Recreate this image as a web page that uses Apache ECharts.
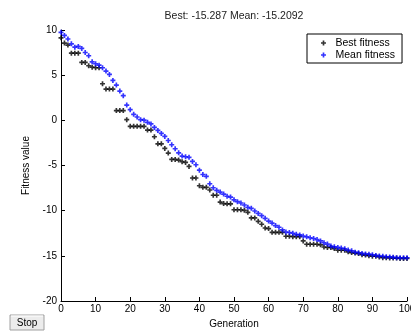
<!DOCTYPE html>
<html>
<head>
<meta charset="utf-8">
<script src="https://cdn.jsdelivr.net/npm/echarts@6/dist/echarts.min.js"></script>
<style>
html,body{margin:0;padding:0;background:#fff;}
#c{width:411px;height:332px;}
</style>
</head>
<body>
<div id="c"></div>
<script>
const generations = Array.from({length: 101}, (_, i) => i);
const bestFitness = [
  9.13, 8.55, 8.33, 7.44, 7.44, 7.44, 6.41, 6.41, 6.04, 5.89,
  5.82, 5.82, 4.05, 3.46, 3.46, 3.46, 1.08, 1.08, 1.08, 0.07,
  -0.66, -0.66, -0.66, -0.66, -0.66, -1.08, -1.08, -1.82, -2.6, -2.6,
  -3.11, -3.63, -4.33, -4.33, -4.4, -4.58, -4.66, -5.1, -6.38, -6.38,
  -7.24, -7.42, -7.42, -7.71, -8.29, -8.29, -9.05, -9.22, -9.24, -9.24,
  -9.9, -9.9, -9.9, -9.96, -10.18, -10.8, -10.8, -11.18, -11.5, -11.92,
  -11.98, -12.4, -12.4, -12.4, -12.4, -12.83, -12.83, -12.88, -12.88, -12.88,
  -13.35, -13.72, -13.72, -13.72, -13.72, -13.78, -14.02, -14.08, -14.08, -14.2,
  -14.38, -14.38, -14.38, -14.56, -14.64, -14.7, -14.75, -14.88, -14.92, -14.98,
  -15.05, -15.05, -15.12, -15.2, -15.2, -15.24, -15.25, -15.25, -15.287, -15.287,
  -15.287
];
const meanFitness = [
  9.74, 9.4, 9.0, 8.47, 8.1, 8.18, 7.96, 7.51, 7.15, 6.48,
  6.26, 6.11, 5.82, 5.45, 5.08, 4.42, 3.9, 3.24, 2.73, 1.69,
  1.18, 0.66, 0.37, 0.07, 0.02, -0.22, -0.4, -0.78, -1.12, -1.45,
  -1.78, -2.23, -2.7, -3.15, -3.6, -3.96, -4.03, -4.1, -4.55, -4.92,
  -5.52, -6.0, -6.2, -7.02, -7.46, -7.75, -7.94, -8.16, -8.4, -8.5,
  -8.8, -9.0, -9.15, -9.37, -9.63, -9.74, -10.04, -10.3, -10.55, -10.85,
  -11.15, -11.37, -11.65, -11.84, -12.13, -12.36, -12.42, -12.5, -12.62, -12.68,
  -12.8, -12.9, -13.0, -13.08, -13.2, -13.35, -13.55, -13.7, -13.92, -14.0,
  -14.07, -14.14, -14.22, -14.36, -14.44, -14.59, -14.66, -14.73, -14.8, -14.82,
  -14.88, -14.95, -15.03, -15.05, -15.1, -15.12, -15.17, -15.2, -15.21, -15.21,
  -15.2092
];
const titleText = 'Best: -15.287 Mean: -15.2092';
const seriesNames = ['Best fitness', 'Mean fitness'];

const plus = 'path://M2,0H4V2H6V4H4V6H2V4H0V2H2Z';
const font = 'Arial, "Liberation Sans", sans-serif';

const chart = echarts.init(document.getElementById('c'), null, {renderer: 'canvas'});
chart.setOption({
  animation: false,
  backgroundColor: '#ffffff',
  textStyle: {fontFamily: font},
  grid: {left: 61, right: 4, top: 30, bottom: 31, containLabel: false, outerBoundsMode: 'none'},
  legend: {
    orient: 'vertical',
    left: 307, top: 34,
    padding: [3, 7, 2, 14],
    itemGap: 0,
    itemWidth: 14, itemHeight: 5,
    backgroundColor: '#fff',
    borderColor: '#000', borderWidth: 1,
    borderRadius: 0,
    textStyle: {fontSize: 10.5, color: '#000', lineHeight: 12, fontFamily: font},
    data: seriesNames
  },
  xAxis: {
    type: 'value', min: 0, max: 100, interval: 10,
    name: 'Generation', nameLocation: 'middle', nameGap: 15,
    nameTextStyle: {fontSize: 10, color: '#000', fontFamily: font},
    axisLine: {show: true, onZero: false, lineStyle: {color: '#000', width: 1}},
    axisTick: {show: true, inside: true, length: 4, lineStyle: {color: '#000'}},
    axisLabel: {fontSize: 10, color: '#000', margin: 3, fontFamily: font, showMaxLabel: true},
    splitLine: {show: false}
  },
  yAxis: {
    type: 'value', min: -20, max: 10, interval: 5,
    name: 'Fitness value', nameLocation: 'middle', nameGap: 26,
    nameTextStyle: {fontSize: 10, color: '#000', fontFamily: font},
    axisLine: {show: true, onZero: false, lineStyle: {color: '#000', width: 1}},
    axisTick: {show: true, inside: true, length: 4, lineStyle: {color: '#000'}},
    axisLabel: {fontSize: 10, color: '#000', margin: 4, fontFamily: font},
    splitLine: {show: false}
  },
  series: [
    {
      name: seriesNames[0], type: 'scatter', symbol: plus, symbolSize: 5,
      itemStyle: {color: '#000000'},
      data: generations.map((g, i) => [g, bestFitness[i]])
    },
    {
      name: seriesNames[1], type: 'scatter', symbol: plus, symbolSize: 5,
      itemStyle: {color: '#0000ff'},
      data: generations.map((g, i) => [g, meanFitness[i]])
    }
  ],
  graphic: [
    {
      type: 'text', x: 234, y: 16,
      style: {text: titleText, fontSize: 10.5, fill: '#222', align: 'center', verticalAlign: 'middle', fontFamily: font}
    },
    {
      type: 'group', x: 10, y: 315,
      children: [
        {type: 'rect', shape: {x: 0, y: 0, width: 34, height: 15}, style: {fill: '#ececec', stroke: '#a0a0a0', lineWidth: 1}},
        {type: 'line', shape: {x1: 1, y1: 1, x2: 33, y2: 1}, style: {stroke: '#ffffff', lineWidth: 1}},
        {type: 'text', x: 17, y: 8, style: {text: 'Stop', fontSize: 10, fill: '#000', align: 'center', verticalAlign: 'middle', fontFamily: font}}
      ]
    }
  ]
});
</script>
</body>
</html>
